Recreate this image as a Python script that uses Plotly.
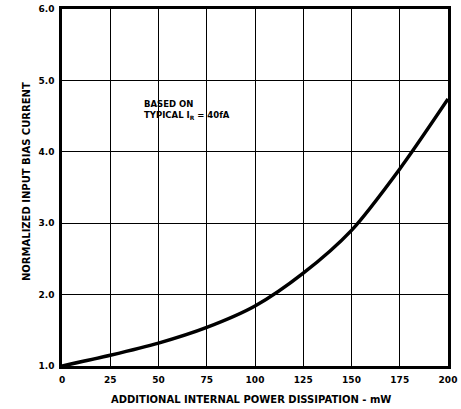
import plotly.graph_objects as go

power_mw = [0, 25, 50, 75, 100, 125, 150, 175, 200]
norm_bias = [1.0, 1.15, 1.32, 1.54, 1.84, 2.30, 2.90, 3.76, 4.74]

x_ticks = [0, 25, 50, 75, 100, 125, 150, 175, 200]
y_ticks = [1.0, 2.0, 3.0, 4.0, 5.0, 6.0]
y_tick_text = ["1.0", "2.0", "3.0", "4.0", "5.0", "6.0"]

x_title = "ADDITIONAL INTERNAL POWER DISSIPATION - mW"
y_title = "NORMALIZED INPUT BIAS CURRENT"
note = "BASED ON<br>TYPICAL I<sub>R</sub> = 40fA"

FONT = "DejaVu Sans, Arial, sans-serif"
W, H = 461, 409
L, R, T, B = 62, 13, 9, 43

fig = go.Figure()
fig.add_trace(go.Scatter(
    x=power_mw, y=norm_bias, mode="lines",
    line=dict(color="black", width=3.5, shape="spline", smoothing=0.8),
    showlegend=False, hoverinfo="skip",
))

fig.add_annotation(
    x=41.5, y=4.58, xref="x", yref="y",
    text=note,
    showarrow=False, xanchor="left", yanchor="middle", align="left",
    font=dict(family=FONT, size=8.5, color="black", weight="bold"),
)

# axis titles placed in paper coordinates
pw = W - L - R
ph = H - T - B
fig.add_annotation(
    x=(251 - L) / pw, y=-(399 - (H - B)) / ph, xref="paper", yref="paper",
    text=x_title, showarrow=False, xanchor="center", yanchor="middle",
    font=dict(family=FONT, size=10, color="black", weight="bold"),
)
fig.add_annotation(
    x=-(L - 26) / pw, y=((H - B) - 182) / ph, xref="paper", yref="paper",
    text=y_title, showarrow=False, xanchor="center", yanchor="middle",
    textangle=-90,
    font=dict(family=FONT, size=10, color="black", weight="bold"),
)

fig.update_layout(
    width=W, height=H,
    margin=dict(l=L, r=R, t=T, b=B, autoexpand=False),
    paper_bgcolor="white", plot_bgcolor="white",
    font=dict(family=FONT, color="black"),
    xaxis=dict(
        range=[0, 200], tickvals=x_ticks, ticktext=[str(v) for v in x_ticks],
        showgrid=True, gridcolor="black", gridwidth=1.3,
        showline=True, linecolor="black", linewidth=2.5, mirror=True,
        zeroline=False, ticks="", automargin=False, ticklabelstandoff=3,
        tickfont=dict(family=FONT, size=9, color="black", weight="bold"),
    ),
    yaxis=dict(
        range=[1.0, 6.0], tickvals=y_ticks, ticktext=y_tick_text,
        showgrid=True, gridcolor="black", gridwidth=1.3,
        showline=True, linecolor="black", linewidth=2.5, mirror=True,
        zeroline=False, ticks="", automargin=False, ticklabelstandoff=3,
        tickfont=dict(family=FONT, size=9, color="black", weight="bold"),
    ),
)

fig.write_html(
    "out.html",
    config={"displayModeBar": False},
    post_script="document.body.style.margin='0';document.body.style.overflow='hidden';",
)
